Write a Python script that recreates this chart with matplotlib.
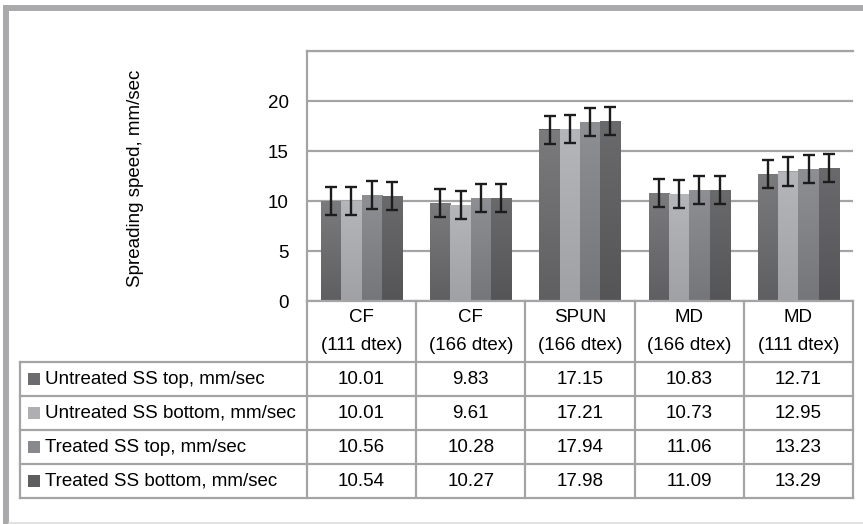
import numpy as np
import matplotlib.pyplot as plt
import matplotlib.transforms as mtransforms
from matplotlib.lines import Line2D
from matplotlib.patches import Rectangle
from matplotlib.colors import LinearSegmentedColormap

plt.rcParams['font.family'] = ['Liberation Sans', 'DejaVu Sans']

# Spreading speed (mm/sec) per yarn type
categories = ["CF\n(111 dtex)", "CF\n(166 dtex)", "SPUN\n(166 dtex)", "MD\n(166 dtex)", "MD\n(111 dtex)"]
series_names = ["Untreated SS top, mm/sec", "Untreated SS bottom, mm/sec",
                "Treated SS top, mm/sec", "Treated SS bottom, mm/sec"]
untreated_top = [10.01, 9.83, 17.15, 10.83, 12.71]
untreated_bottom = [10.01, 9.61, 17.21, 10.73, 12.95]
treated_top = [10.56, 10.28, 17.94, 11.06, 13.23]
treated_bottom = [10.54, 10.27, 17.98, 11.09, 13.29]
error = [1.4, 1.4, 1.4, 1.4, 1.4]
y_ticks = [0, 5, 10, 15, 20]

series = [untreated_top, untreated_bottom, treated_top, treated_bottom]
# (bottom colour, top colour) of each bar gradient, plus legend key colour
shades = [("#5f5f62", "#7b7b7e"), ("#a0a1a4", "#b5b6b9"),
          ("#75767a", "#8e8f92"), ("#555557", "#6a6a6c")]
key_colors = ["#6c6c6f", "#afafb2", "#88898c", "#5e5e60"]
line_gray = "#a4a4a6"
fs = 13.5

W, H = 863, 524
fig = plt.figure(figsize=(W / 100, H / 100), dpi=100)


def fx(px):
    return px / W


def fy(py):
    return 1 - py / H


ax = fig.add_axes([fx(307), fy(301), fx(853) - fx(307), fy(51) - fy(301)])

n = len(series)
bw = 0.186
x = np.arange(len(categories))
for j, vals in enumerate(series):
    pos = x + (j - (n - 1) / 2) * bw
    bars = ax.bar(pos, vals, width=bw, color=shades[j][0], linewidth=0, zorder=2)
    cmap = LinearSegmentedColormap.from_list("g%d" % j, list(shades[j]))
    for b in bars:
        grad = np.linspace(1, 0, 64).reshape(-1, 1)
        im = ax.imshow(grad, cmap=cmap, aspect="auto", zorder=2.5,
                       extent=[b.get_x(), b.get_x() + b.get_width(), 0, b.get_height()])
        im.set_clip_path(b)
    ax.errorbar(pos, vals, yerr=error, fmt="none", ecolor="#1c1c1c",
                elinewidth=1.7, capsize=4.2, capthick=1.7, zorder=4)

ax.set_xlim(-0.5, len(categories) - 0.5)
ax.set_ylim(0, 25)
ax.set_yticks(y_ticks + [25])
ax.set_yticklabels([str(t) for t in y_ticks] + [""])
ax.set_xticks([])
ax.tick_params(axis="y", length=0, pad=13, labelsize=fs)
ax.grid(axis="y", color=line_gray, linewidth=1.6, zorder=0)
ax.set_axisbelow(True)
for side in ["left", "top", "bottom"]:
    ax.spines[side].set_color(line_gray)
    ax.spines[side].set_linewidth(1.6)
ax.spines["right"].set_visible(False)

fig.text(fx(135), fy(178), "Spreading speed, mm/sec", rotation=90,
         ha="center", va="center", fontsize=fs)

# data table below the plot
blend = mtransforms.blended_transform_factory(ax.transData, fig.transFigure)
row_edges = [362, 396, 430, 464, 498]
tbl_left = 20
x_right = len(categories) - 0.5

for i in range(len(categories) + 1):
    ax.add_line(Line2D([i - 0.5, i - 0.5], [fy(301), fy(498)], transform=blend,
                       color=line_gray, lw=1.6, clip_on=False))
for r in row_edges:
    fig.add_artist(Line2D([fx(tbl_left), ax.transData.transform((x_right, 0))[0] / W],
                          [fy(r), fy(r)], color=line_gray, lw=1.6))
fig.add_artist(Line2D([fx(tbl_left), fx(tbl_left)], [fy(362), fy(498)],
                      color=line_gray, lw=1.6))

for i, cat in enumerate(categories):
    top, bottom = cat.split("\n")
    ax.text(i, fy(318), top, transform=blend, ha="center", va="center", fontsize=fs)
    ax.text(i, fy(346), bottom, transform=blend, ha="center", va="center", fontsize=fs)

for j, vals in enumerate(series):
    yc = (row_edges[j] + row_edges[j + 1]) / 2
    fig.add_artist(Rectangle((fx(28), fy(yc + 6)), fx(12), 12 / H,
                             facecolor=key_colors[j], edgecolor="none"))
    fig.text(fx(45), fy(yc), series_names[j], ha="left", va="center", fontsize=fs)
    for i, v in enumerate(vals):
        ax.text(i, fy(yc), "%.2f" % v, transform=blend, ha="center", va="center",
                fontsize=fs)

# chart frame
fig.add_artist(Line2D([fx(6), fx(6)], [0, fy(8)], color="#a9a9ab", lw=4.3,
                      solid_capstyle="projecting"))
fig.add_artist(Line2D([fx(6), 1], [fy(8), fy(8)], color="#a9a9ab", lw=4.3,
                      solid_capstyle="projecting"))
fig.add_artist(Line2D([fx(9), 1], [fy(522.5), fy(522.5)], color="#dcdcdc", lw=1.2))

fig.savefig("out.png", dpi=100)
